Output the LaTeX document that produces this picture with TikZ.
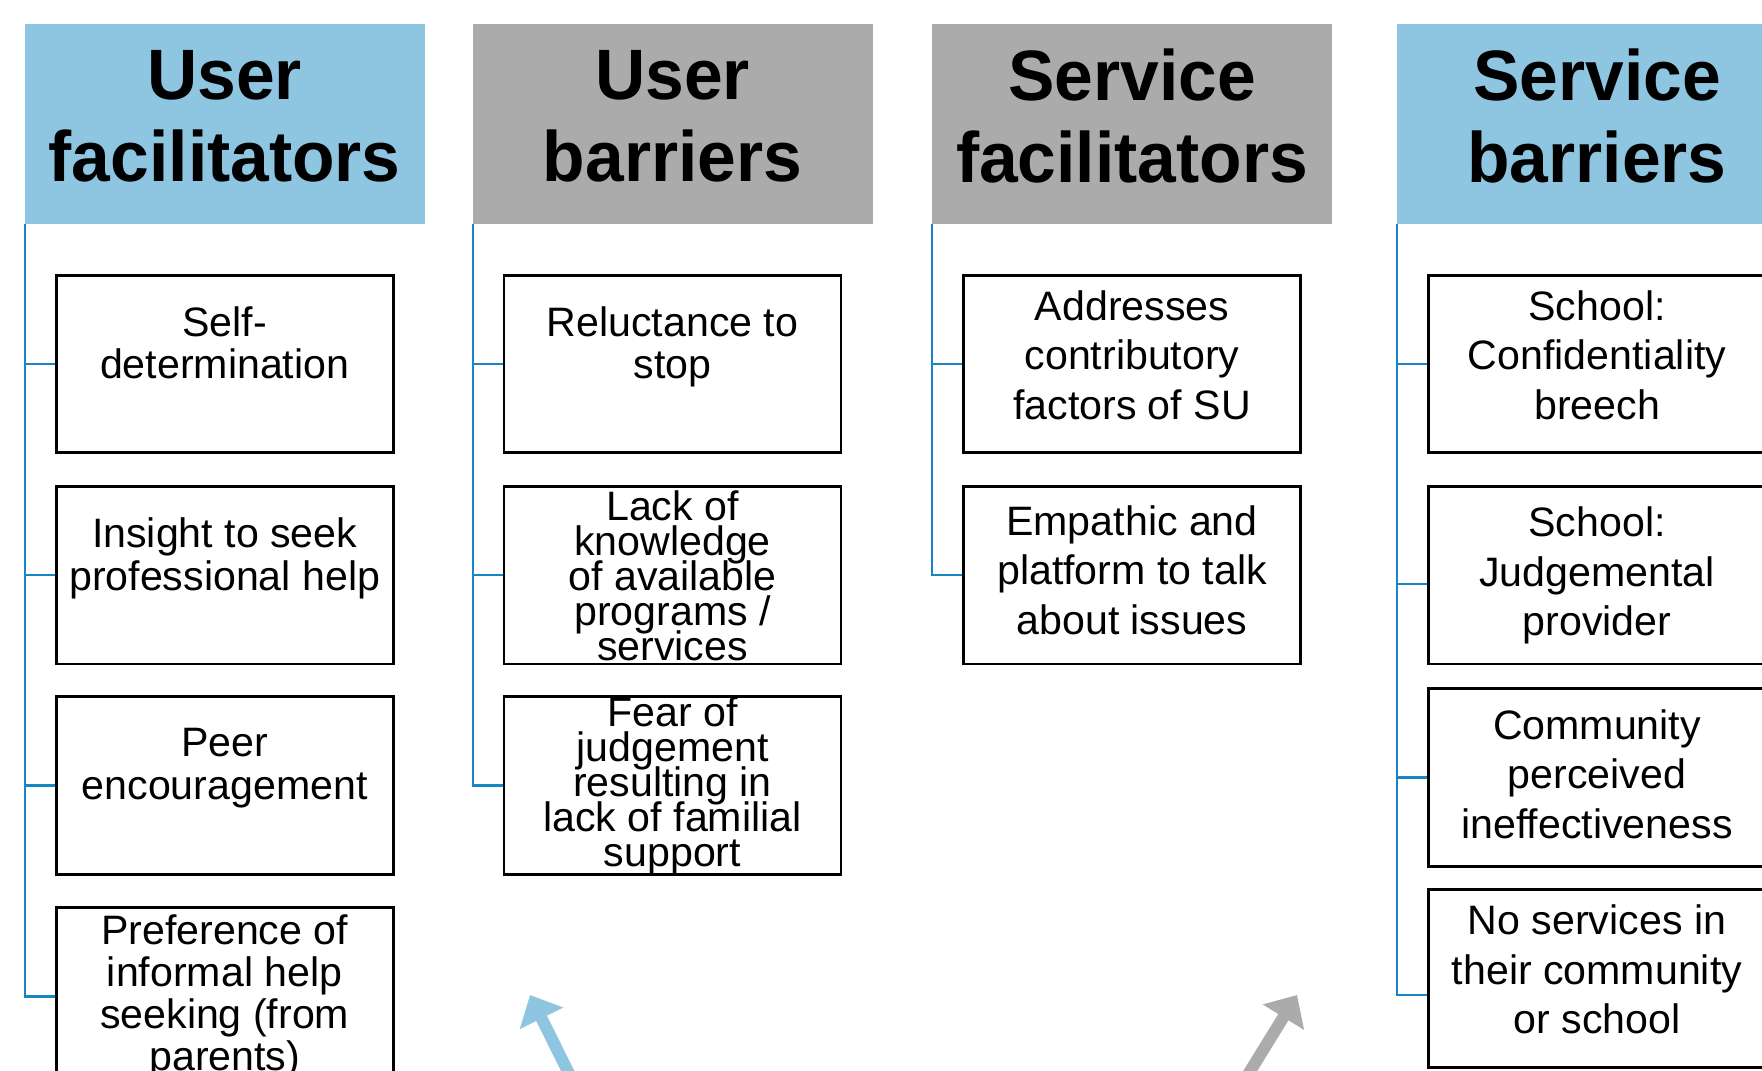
\documentclass[tikz,border=0pt]{standalone}
\usepackage{fontspec}
\setmainfont{Liberation Sans}
\newfontfamily\headfont[FakeStretch=0.975]{Liberation Sans}
\usetikzlibrary{arrows.meta}

\definecolor{headblue}{RGB}{142,197,224}
\definecolor{headgray}{RGB}{171,171,171}
\definecolor{linkblue}{RGB}{22,134,196}

\begin{document}
\lineskiplimit=-20pt
\begin{tikzpicture}[
    lift/.style = {execute at end node = {\rule[-#1]{0pt}{0pt}}},
    header/.style = {minimum width = 4cm,minimum height = 1.99cm,inner sep = 0pt,align = center,
        font = \headfont\bfseries\fontsize{20.3}{23.3}\selectfont,lift = 0.16cm},
    itembox/.style = {draw,line width = 0.75pt,minimum width = 3.37cm,minimum height = 1.775cm,
        inner sep = 0pt,align = center,font = \fontsize{11.7}{#1}\selectfont},
    itembox/.default = 14.1,
    link/.style = {draw = linkblue,line width = 0.6pt},
    bigarrow/.style = {line width = 0.12cm,arrows = -{Triangle[length = 0.26cm,width = 0.47cm]}}
]
        %   \draw [help lines] (0,0) grid (18,11);
        \clip (0,0) rectangle (17.62,10.70);

        \node [header,fill = headblue] (uf) at (2.247,9.46) {User\\facilitators};
        \node [header,fill = headgray] (ub) at (6.725,9.46) {User\\barriers};
        \node [header,fill = headgray] (sf) at (11.32,9.46) {Service\\facilitators};
        \node [header,fill = headblue] (sb) at (15.97,9.46) {Service\\barriers};

        \node [itembox = 12.15,lift = 0.43cm] (uf1) at (2.247,7.06) {Self-\\determination};
        \node [itembox = 12.15,lift = 0.43cm] (uf2) at (2.247,4.946) {Insight to seek\\professional help};
        \node [itembox = 12.15,lift = 0.43cm] (uf3) at (2.247,2.845) {Peer\\encouragement};
        \node [itembox = 11.95] (uf4) at (2.247,0.735) {Preference of\\informal help\\seeking (from\\parents)};

        \node [itembox = 12.15,lift = 0.43cm] (ub1) at (6.725,7.06) {Reluctance to\\stop};
        \node [itembox = 9.96,inner ysep = -0.1cm] (ub2) at (6.725,4.946) {Lack of\\knowledge\\of available\\programs /\\services};
        \node [itembox = 9.96,inner ysep = -0.1cm] (ub3) at (6.725,2.845) {Fear of\\judgement\\resulting in\\lack of familial\\support};

        \node [itembox,lift = 0.18cm] (sf1) at (11.32,7.06) {Addresses\\contributory\\factors of SU};
        \node [itembox,lift = 0.11cm] (sf2) at (11.32,4.946) {Empathic and\\platform to talk\\about issues};

        \node [itembox,lift = 0.18cm] (sb1) at (15.97,7.06) {School:\\Confidentiality\\breech};
        \node [itembox] (sb2) at (15.97,4.946) {School:\\Judgemental\\provider};
        \node [itembox,lift = 0.07cm] (sb3) at (15.97,2.925) {Community\\perceived\\ineffectiveness};
        \node [itembox,lift = 0.18cm] (sb4) at (15.97,0.915) {No services in\\their community\\or school};

        \draw [link] ([xshift = 0.01cm]uf.south west) |- (uf1.west);
        \draw [link] ([xshift = 0.01cm]uf.south west) |- (uf2.west);
        \draw [link] ([xshift = 0.01cm]uf.south west) |- (uf3.west);
        \draw [link] ([xshift = 0.01cm]uf.south west) |- (uf4.west);

        \draw [link] ([xshift = 0.01cm]ub.south west) |- (ub1.west);
        \draw [link] ([xshift = 0.01cm]ub.south west) |- (ub2.west);
        \draw [link] ([xshift = 0.01cm]ub.south west) |- (ub3.west);

        \draw [link] ([xshift = 0.01cm]sf.south west) |- (sf1.west);
        \draw [link] ([xshift = 0.01cm]sf.south west) |- (sf2.west);

        \draw [link] ([xshift = 0.01cm]sb.south west) |- (sb1.west);
        \draw [link] ([xshift = 0.01cm]sb.south west) |- ([yshift = -0.086cm]sb2.west);
        \draw [link] ([xshift = 0.01cm]sb.south west) |- (sb3.west);
        \draw [link] ([xshift = 0.01cm]sb.south west) |- ([yshift = -0.165cm]sb4.west);

        \coordinate (bluetail) at (5.92,-0.5);
        \coordinate (bluetip) at (5.30,0.75);
        \coordinate (graytail) at (12.20,-0.5);
        \coordinate (graytip) at (12.97,0.75);

        \draw [bigarrow,headblue] (bluetail) -- (bluetip);
        \draw [bigarrow,headgray] (graytail) -- (graytip);
\end{tikzpicture}
\end{document}
